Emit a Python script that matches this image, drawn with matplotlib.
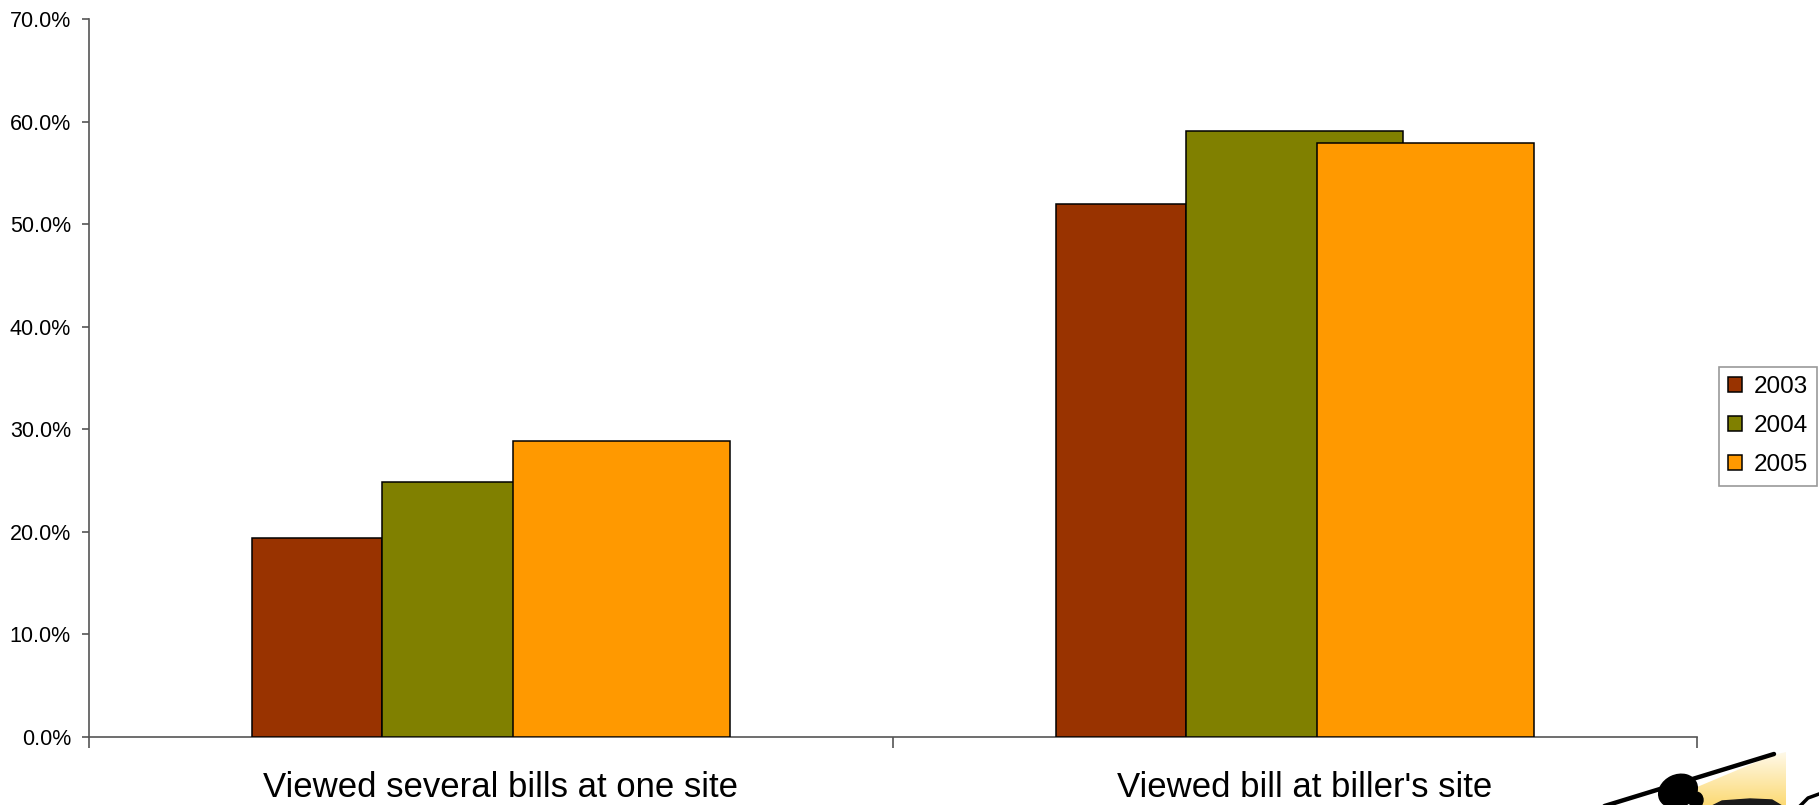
import numpy as np
import matplotlib.pyplot as plt
from matplotlib.patches import Ellipse, Polygon
from matplotlib.ticker import FuncFormatter

plt.rcParams['font.family'] = ['Liberation Sans', 'DejaVu Sans']

categories = ["Viewed several bills at one site", "Viewed bill at biller's site"]
years = ['2003', '2004', '2005']
pct_2003 = [0.194, 0.520]
pct_2004 = [0.249, 0.591]
pct_2005 = [0.289, 0.579]
y_ticks = [0.0, 0.1, 0.2, 0.3, 0.4, 0.5, 0.6, 0.7]

colors = ['#993300', '#808000', '#FF9900']
# bar left offset and width inside each category slot (the later bars overlap)
offsets = [0.2027, 0.3644, 0.5274]
widths = [0.1617, 0.270, 0.270]

W, H = 1819, 805
fig = plt.figure(figsize=(W / 100, H / 100), dpi=100)
ax = fig.add_axes([89 / W, 1 - 737 / H, (1697 - 89) / W, (737 - 19) / H])

idx = np.arange(len(categories))
for vals, c, off, w, lab in zip([pct_2003, pct_2004, pct_2005], colors, offsets, widths, years):
    ax.bar(idx + off, vals, width=w, align='edge', color=c, edgecolor='black',
           linewidth=1.1, label=lab, zorder=3)

ax.set_xlim(0, len(categories))
ax.set_ylim(0, 0.7)
ax.set_yticks(y_ticks)
ax.yaxis.set_major_formatter(FuncFormatter(lambda v, p: f'{v * 100:.1f}%'))
ax.set_xticks(np.arange(len(categories) + 1))
ax.set_xticklabels([])

for s in ['top', 'right']:
    ax.spines[s].set_visible(False)
for s in ['left', 'bottom']:
    ax.spines[s].set_color('#555555')
    ax.spines[s].set_linewidth(1.2)
ax.tick_params(axis='y', direction='out', length=5, width=1.2, color='#555555',
               pad=8, labelsize=15.5)
ax.tick_params(axis='x', direction='out', length=8, width=1.2, color='#555555')

# category names sit under each slot, a little right of centre
for i, cat in enumerate(categories):
    fig.text((89 + (i + 0.512) * 804) / W, 1 - 804 / H, cat, ha='center',
             va='bottom', fontsize=25)

leg = ax.legend(loc='upper left', bbox_to_anchor=(1719 / W, 1 - 367 / H),
                bbox_transform=fig.transFigure, fontsize=17.5, frameon=True,
                fancybox=False, borderaxespad=0, borderpad=0.38,
                handlelength=0.58, handleheight=0.58, handletextpad=0.45,
                labelspacing=0.7)
leg.get_frame().set_edgecolor('#808080')
leg.get_frame().set_linewidth(1.2)

# small pen clipart in the bottom-right corner
deco = fig.add_axes([0, 0, 1, 1], zorder=5)
deco.set_xlim(0, W)
deco.set_ylim(H, 0)
deco.axis('off')
ramp = np.linspace(0, 1, 60)[:, None] * np.ones((1, 10))
glow = np.ones((60, 10, 4))
glow[..., 0] = 0.99
glow[..., 1] = 0.84
glow[..., 2] = 0.40
glow[..., 3] = 0.15 + ramp * 0.75
im = deco.imshow(glow, extent=(1690, 1786, 805, 752), aspect='auto', zorder=1)
clip = Polygon([[1690, 790], [1773, 755], [1786, 752], [1786, 805], [1690, 805]],
               closed=True, transform=deco.transData, facecolor='none', edgecolor='none')
deco.add_patch(clip)
im.set_clip_path(clip)
deco.plot([1598, 1774], [808, 754], color='black', lw=3.2, solid_capstyle='round', zorder=2)
deco.add_patch(Ellipse((1678, 791), 40, 32, angle=-25, color='black', zorder=3))
deco.add_patch(Ellipse((1696, 800), 14, 16, angle=0, color='black', zorder=3))
deco.add_patch(Polygon([[1712, 806], [1722, 801], [1750, 799], [1772, 800], [1782, 806]],
                       closed=True, color='#1a1a1a', zorder=3))
deco.plot([1800, 1808, 1819], [806, 798, 794], color='black', lw=2.5, zorder=3)

fig.savefig('out.png', dpi=100)
